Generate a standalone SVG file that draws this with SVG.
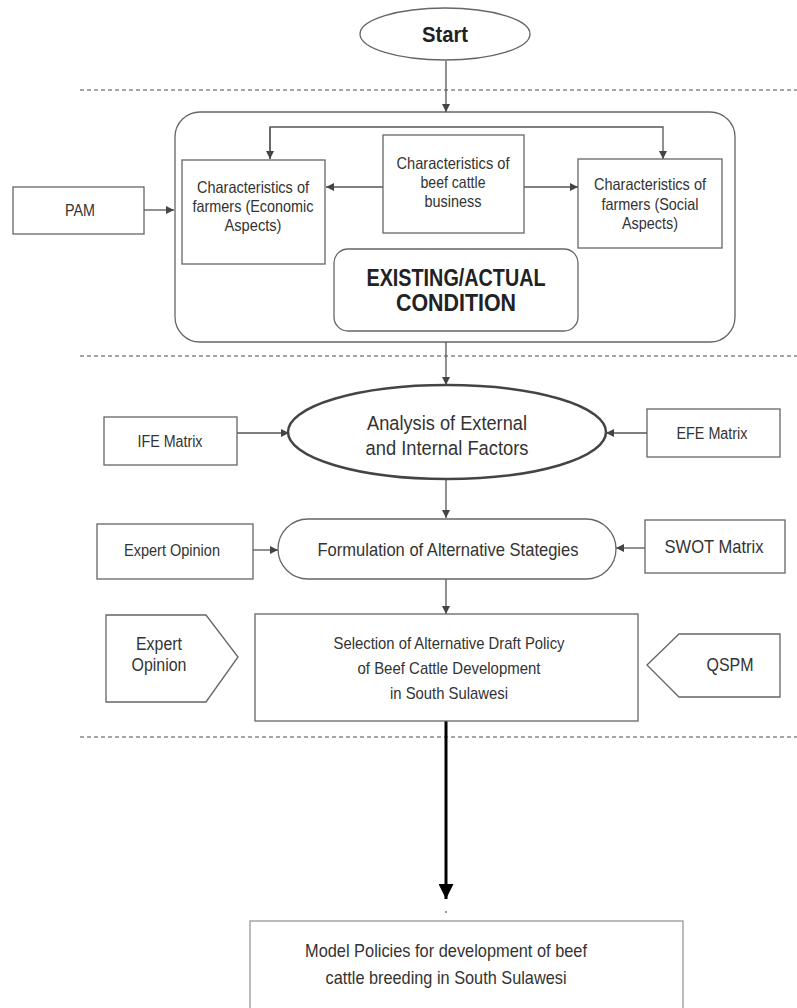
<svg xmlns="http://www.w3.org/2000/svg" width="797" height="1008" viewBox="0 0 797 1008">
<style>
.box{fill:#fff;stroke:#666;stroke-width:1.3}
.t{font-family:"Liberation Sans",Arial,sans-serif;fill:#333;text-anchor:middle;dominant-baseline:central}
.b{font-weight:bold;fill:#222}
.ln{stroke:#555;stroke-width:1.3;fill:none}
.dash{stroke:#888;stroke-width:1.3;stroke-dasharray:4 3;fill:none}
</style>
<defs>
<marker id="ah" viewBox="0 0 10 10" refX="10" refY="5" markerWidth="8" markerHeight="8" markerUnits="userSpaceOnUse" orient="auto">
<path d="M0,0 L10,5 L0,10 z" fill="#444"/>
</marker>
<marker id="big" viewBox="0 0 10 10" refX="10" refY="5" markerWidth="15" markerHeight="15" markerUnits="userSpaceOnUse" orient="auto">
<path d="M0,0 L10,5 L0,10 z" fill="#000"/>
</marker>
</defs>
<rect width="797" height="1008" fill="#fff"/>

<g id="separators">
<line class="dash" x1="80" y1="90" x2="797" y2="90"/>
<line class="dash" x1="80" y1="356" x2="797" y2="356"/>
<line class="dash" x1="80" y1="737" x2="797" y2="737"/>
</g>

<g id="existing-group">
<rect class="box" x="175" y="112" width="560" height="230" rx="25"/>
</g>

<g id="connectors">
<line class="ln" x1="446" y1="61" x2="446" y2="112" marker-end="url(#ah)"/>
<polyline class="ln" points="270,159 270,127 663,127 663,159" marker-end="url(#ah)"/>
<line class="ln" x1="270" y1="127" x2="270" y2="159" marker-end="url(#ah)"/>
<line class="ln" x1="383" y1="187" x2="326" y2="187" marker-end="url(#ah)"/>
<line class="ln" x1="524" y1="187" x2="578" y2="187" marker-end="url(#ah)"/>
<line class="ln" x1="144" y1="210" x2="174" y2="210" marker-end="url(#ah)"/>
<line class="ln" x1="446" y1="342" x2="446" y2="385" marker-end="url(#ah)"/>
<line class="ln" x1="237" y1="433" x2="289" y2="433" marker-end="url(#ah)"/>
<line class="ln" x1="647" y1="433" x2="606" y2="433" marker-end="url(#ah)"/>
<line class="ln" x1="446" y1="479" x2="446" y2="518" marker-end="url(#ah)"/>
<line class="ln" x1="253" y1="550" x2="278" y2="550" marker-end="url(#ah)"/>
<line class="ln" x1="645" y1="548" x2="616" y2="548" marker-end="url(#ah)"/>
<line class="ln" x1="446" y1="579" x2="446" y2="614" marker-end="url(#ah)"/>
<line x1="446" y1="721" x2="446" y2="899" stroke="#000" stroke-width="3" marker-end="url(#big)"/>
<circle cx="446" cy="912" r="1" fill="#777"/>
</g>

<g id="start">
<ellipse class="box" cx="445" cy="34" rx="85" ry="26"/>
<text class="t b" x="445" y="34" font-size="22" textLength="46" lengthAdjust="spacingAndGlyphs">Start</text>
</g>

<g id="econ">
<rect class="box" x="182" y="160" width="143" height="104"/>
<text class="t" x="253" y="187" font-size="16.5" textLength="112" lengthAdjust="spacingAndGlyphs">Characteristics of</text>
<text class="t" x="253" y="206" font-size="16.5" textLength="121" lengthAdjust="spacingAndGlyphs">farmers (Economic</text>
<text class="t" x="253" y="225" font-size="16.5" textLength="57" lengthAdjust="spacingAndGlyphs">Aspects)</text>
</g>

<g id="business">
<rect class="box" x="383" y="135" width="141" height="98"/>
<text class="t" x="453" y="163" font-size="16.5" textLength="113" lengthAdjust="spacingAndGlyphs">Characteristics of</text>
<text class="t" x="453" y="182" font-size="16.5" textLength="65" lengthAdjust="spacingAndGlyphs">beef cattle</text>
<text class="t" x="453" y="201" font-size="16.5" textLength="57" lengthAdjust="spacingAndGlyphs">business</text>
</g>

<g id="social">
<rect class="box" x="578" y="159" width="144" height="89"/>
<text class="t" x="650" y="184" font-size="16.5" textLength="112" lengthAdjust="spacingAndGlyphs">Characteristics of</text>
<text class="t" x="650" y="204" font-size="16.5" textLength="97" lengthAdjust="spacingAndGlyphs">farmers (Social</text>
<text class="t" x="650" y="223" font-size="16.5" textLength="56" lengthAdjust="spacingAndGlyphs">Aspects)</text>
</g>

<g id="existing">
<rect class="box" x="334" y="249" width="244" height="82" rx="14"/>
<text class="t b" x="456" y="278" font-size="23" textLength="179" lengthAdjust="spacingAndGlyphs">EXISTING/ACTUAL</text>
<text class="t b" x="456" y="303" font-size="23" textLength="120" lengthAdjust="spacingAndGlyphs">CONDITION</text>
</g>

<g id="pam">
<rect class="box" x="13" y="187" width="131" height="47"/>
<text class="t" x="80" y="210" font-size="16" textLength="30" lengthAdjust="spacingAndGlyphs">PAM</text>
</g>

<g id="analysis">
<ellipse cx="447" cy="432" rx="159" ry="47" fill="#fff" stroke="#444" stroke-width="2.5"/>
<text class="t" x="447" y="422" font-size="20.5" textLength="160" lengthAdjust="spacingAndGlyphs">Analysis of External</text>
<text class="t" x="447" y="447" font-size="20.5" textLength="163" lengthAdjust="spacingAndGlyphs">and Internal Factors</text>
</g>

<g id="ife">
<rect class="box" x="104" y="417" width="133" height="48"/>
<text class="t" x="170" y="441" font-size="16" textLength="65" lengthAdjust="spacingAndGlyphs">IFE Matrix</text>
</g>

<g id="efe">
<rect class="box" x="647" y="409" width="133" height="48"/>
<text class="t" x="712" y="433" font-size="16" textLength="71" lengthAdjust="spacingAndGlyphs">EFE Matrix</text>
</g>

<g id="formulation">
<rect class="box" x="278" y="519" width="338" height="60" rx="30"/>
<text class="t" x="448" y="549" font-size="18.5" textLength="261" lengthAdjust="spacingAndGlyphs">Formulation of Alternative Stategies</text>
</g>

<g id="expert1">
<rect class="box" x="97" y="524" width="156" height="55"/>
<text class="t" x="172" y="550" font-size="16.5" textLength="96" lengthAdjust="spacingAndGlyphs">Expert Opinion</text>
</g>

<g id="swot">
<rect class="box" x="645" y="520" width="140" height="53"/>
<text class="t" x="714" y="546" font-size="18.5" textLength="99" lengthAdjust="spacingAndGlyphs">SWOT Matrix</text>
</g>

<g id="selection">
<rect class="box" x="255" y="614" width="383" height="107"/>
<text class="t" x="449" y="643" font-size="17" textLength="231" lengthAdjust="spacingAndGlyphs">Selection of Alternative Draft Policy</text>
<text class="t" x="449" y="668" font-size="17" textLength="183" lengthAdjust="spacingAndGlyphs">of Beef Cattle Development</text>
<text class="t" x="449" y="693" font-size="17" textLength="118" lengthAdjust="spacingAndGlyphs">in South Sulawesi</text>
</g>

<g id="expert2">
<polygon class="box" points="106,615 206,615 238,657 206,702 106,702"/>
<text class="t" x="159" y="644" font-size="18" textLength="46" lengthAdjust="spacingAndGlyphs">Expert</text>
<text class="t" x="159" y="665" font-size="18" textLength="55" lengthAdjust="spacingAndGlyphs">Opinion</text>
</g>

<g id="qspm">
<polygon class="box" points="647,665 679,634 780,634 780,697 679,697"/>
<text class="t" x="730" y="665" font-size="18" textLength="47" lengthAdjust="spacingAndGlyphs">QSPM</text>
</g>

<g id="model">
<rect x="250" y="921" width="433" height="100" fill="#fff" stroke="#999" stroke-width="1.3"/>
<text class="t" x="446" y="950" font-size="18.5" textLength="282" lengthAdjust="spacingAndGlyphs">Model Policies for development of beef</text>
<text class="t" x="446" y="977" font-size="18.5" textLength="241" lengthAdjust="spacingAndGlyphs">cattle breeding in South Sulawesi</text>
</g>
</svg>
